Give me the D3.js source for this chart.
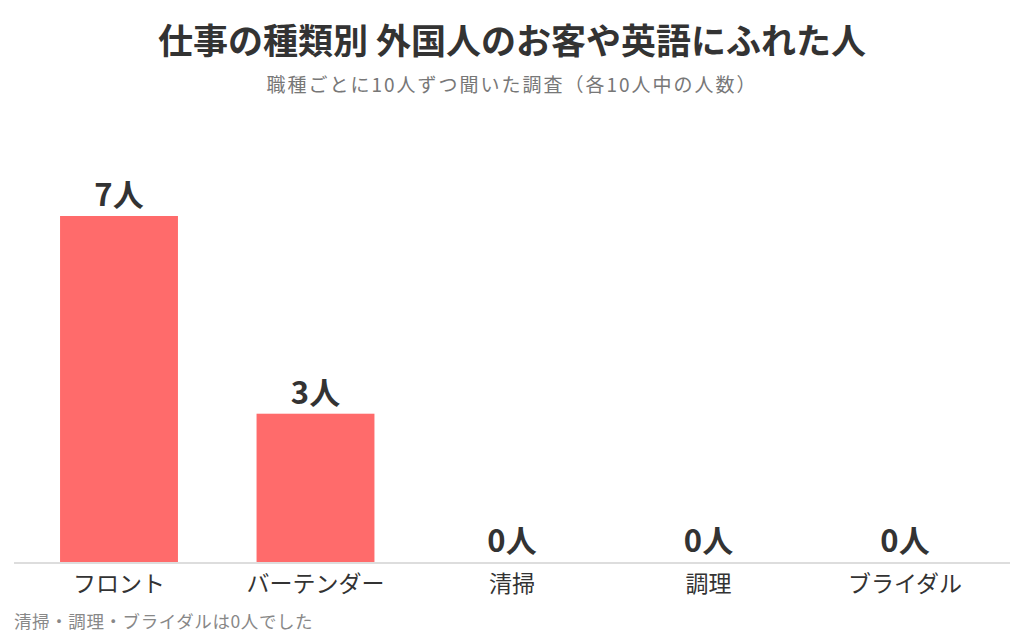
<!DOCTYPE html>
<html>
<head>
<meta charset="utf-8">
<script src="https://cdn.jsdelivr.net/npm/d3@7"></script>
<style>
  body { margin: 0; background: #fff; }
  text { font-family: "Noto Sans CJK JP", "Noto Sans", sans-serif; }
</style>
</head>
<body>
<div id="chart"></div>
<script>
const categories = ["フロント", "バーテンダー", "清掃", "調理", "ブライダル"];
const values = [7, 3, 0, 0, 0];
const unit = "人";
const title = "仕事の種類別 外国人のお客や英語にふれた人";
const subtitle = "職種ごとに10人ずつ聞いた調査（各10人中の人数）";
const note = "清掃・調理・ブライダルは0人でした";

const ctx = {
    w: 1024, h: 640,
    baseY: 562,
    barColor: "#ff6b6b",
    text: "#333333"
};

let svg = d3.select("#chart").append("svg")
    .attr("width", ctx.w)
    .attr("height", ctx.h);

let x = d3.scaleBand()
    .domain(categories)
    .range([20.75, 1003.25])
    .paddingInner(0.4)
    .paddingOuter(0.2);

let y = d3.scaleLinear()
    .domain([0, 7])
    .range([ctx.baseY, 216]);

// title
svg.append("text")
    .attr("x", ctx.w / 2)
    .attr("y", 54)
    .attr("text-anchor", "middle")
    .style("font-size", "35px")
    .style("font-weight", "bold")
    .style("fill", ctx.text)
    .text(title);

svg.append("text")
    .attr("x", ctx.w / 2)
    .attr("y", 92)
    .attr("text-anchor", "middle")
    .style("font-size", "19px")
    .style("letter-spacing", "2px")
    .style("fill", "#777")
    .text(subtitle);

// bars
let data = categories.map((c, i) => ({cat: c, val: values[i]}));
svg.append("g").selectAll("rect")
    .data(data)
    .enter()
    .append("rect")
    .attr("x", d => x(d.cat))
    .attr("y", d => y(d.val))
    .attr("width", x.bandwidth())
    .attr("height", d => ctx.baseY - y(d.val))
    .attr("fill", ctx.barColor);

// value labels
svg.append("g").selectAll("text")
    .data(data)
    .enter()
    .append("text")
    .attr("x", d => x(d.cat) + x.bandwidth() / 2)
    .attr("y", d => y(d.val) - 10)
    .attr("text-anchor", "middle")
    .style("font-size", "31px")
    .style("font-weight", "bold")
    .style("fill", ctx.text)
    .text(d => d.val + unit);

// baseline
svg.append("line")
    .attr("x1", 14)
    .attr("x2", 1010)
    .attr("y1", ctx.baseY + 1)
    .attr("y2", ctx.baseY + 1)
    .attr("stroke", "#dddddd")
    .attr("stroke-width", 2);

// category axis
let axis = svg.append("g")
    .attr("transform", "translate(0," + (ctx.baseY + 2) + ")")
    .call(d3.axisBottom(x).tickSize(0).tickPadding(10));
axis.select(".domain").remove();
axis.selectAll("text")
    .attr("dy", "0.78em")
    .style("font-size", "23px")
    .style("font-family", "\"Noto Sans CJK JP\", sans-serif")
    .style("fill", ctx.text);

// footnote
svg.append("text")
    .attr("x", 14)
    .attr("y", 628)
    .style("font-size", "17.5px")
    .style("letter-spacing", "0.6px")
    .style("fill", "#888")
    .text(note);
</script>
</body>
</html>
